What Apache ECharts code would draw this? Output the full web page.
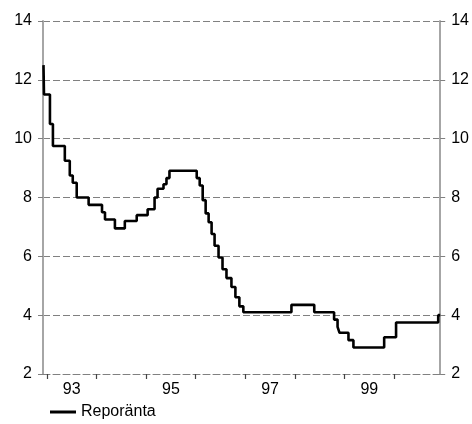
<!DOCTYPE html>
<html>
<head>
<meta charset="utf-8">
<script src="https://cdn.jsdelivr.net/npm/echarts@6/dist/echarts.min.js"></script>
<style>
  html, body { margin: 0; padding: 0; background: #fff; }
  #chart { width: 472px; height: 424px; }
</style>
</head>
<body>
<div id="chart"></div>
<script>
// datum (decimalår) då räntan ändrades, och ny nivå
var dates = [1992.93, 1992.94, 1993.06, 1993.12, 1993.36, 1993.46, 1993.52, 1993.60, 1993.84,
  1994.11, 1994.17, 1994.37, 1994.57, 1994.81, 1995.03, 1995.17, 1995.23, 1995.35, 1995.41,
  1995.47, 1996.02, 1996.08, 1996.14, 1996.20, 1996.26, 1996.32, 1996.38, 1996.46, 1996.54,
  1996.62, 1996.72, 1996.80, 1996.88, 1996.96, 1997.93, 1998.39, 1998.79, 1998.86, 1998.90,
  1999.08, 1999.18, 1999.80, 2000.04, 2000.89, 2000.93];
var rates = [12.5, 11.5, 10.5, 9.75, 9.25, 8.75, 8.5, 8.0, 7.75,
  7.5, 7.25, 6.95, 7.2, 7.4, 7.6, 8.0, 8.3, 8.45, 8.66,
  8.91, 8.66, 8.41, 7.91, 7.46, 7.16, 6.76, 6.36, 5.96, 5.56,
  5.26, 4.96, 4.61, 4.3, 4.1, 4.35, 4.1, 3.85, 3.6, 3.4,
  3.15, 2.9, 3.25, 3.75, 4.0, 4.0];
var yearTicks = [1993, 1994, 1995, 1996, 1997, 1998, 1999, 2000];
var yearLabels = [1993.5, 1995.5, 1997.5, 1999.5];
var seriesName = "Reporänta";

var chart = echarts.init(document.getElementById("chart"));

var points = dates.map(function (d, i) { return [d, rates[i]]; });

var yAxisCommon = {
  type: "value",
  min: 2,
  max: 14,
  interval: 2,
  axisLine: { show: true, lineStyle: { color: "#a6a6a6", width: 2 } },
  axisTick: { show: true, inside: false, length: 5, lineStyle: { color: "#808080", width: 1 } },
  axisLabel: { margin: 11, color: "#000", fontSize: 16, fontFamily: "Liberation Sans, Arial" }
};

var option = {
  animation: false,
  backgroundColor: "#fff",
  grid: { left: 43, right: 31, top: 21, bottom: 50 },
  legend: {
    left: 45,
    top: 399,
    itemWidth: 26,
    itemHeight: 3,
    itemGap: 5,
    icon: "rect",
    textStyle: { color: "#000", fontSize: 16, fontFamily: "Liberation Sans, Arial" },
    data: [seriesName]
  },
  xAxis: {
    type: "value",
    min: 1992.92,
    max: 2000.93,
    axisLine: { show: true, lineStyle: { color: "#808080", type: [7, 3], width: 1 } },
    splitLine: { show: false },
    axisTick: {
      show: true,
      customValues: yearTicks,
      length: 5,
      lineStyle: { color: "#444", width: 1.2, type: "solid" }
    },
    axisLabel: {
      customValues: yearLabels,
      margin: 8,
      color: "#000",
      fontSize: 16,
      fontFamily: "Liberation Sans, Arial",
      formatter: function (v) { return String(Math.floor(v)).slice(2); }
    }
  },
  yAxis: [
    Object.assign({}, yAxisCommon, {
      position: "left",
      splitLine: { show: true, lineStyle: { color: "#808080", type: [7, 3], width: 1 } }
    }),
    Object.assign({}, yAxisCommon, {
      position: "right",
      splitLine: { show: false }
    })
  ],
  series: [
    {
      name: seriesName,
      type: "line",
      step: "end",
      data: points,
      showSymbol: false,
      itemStyle: { color: "#000" },
      lineStyle: { color: "#000", width: 2.6 }
    }
  ]
};

chart.setOption(option);
</script>
</body>
</html>
